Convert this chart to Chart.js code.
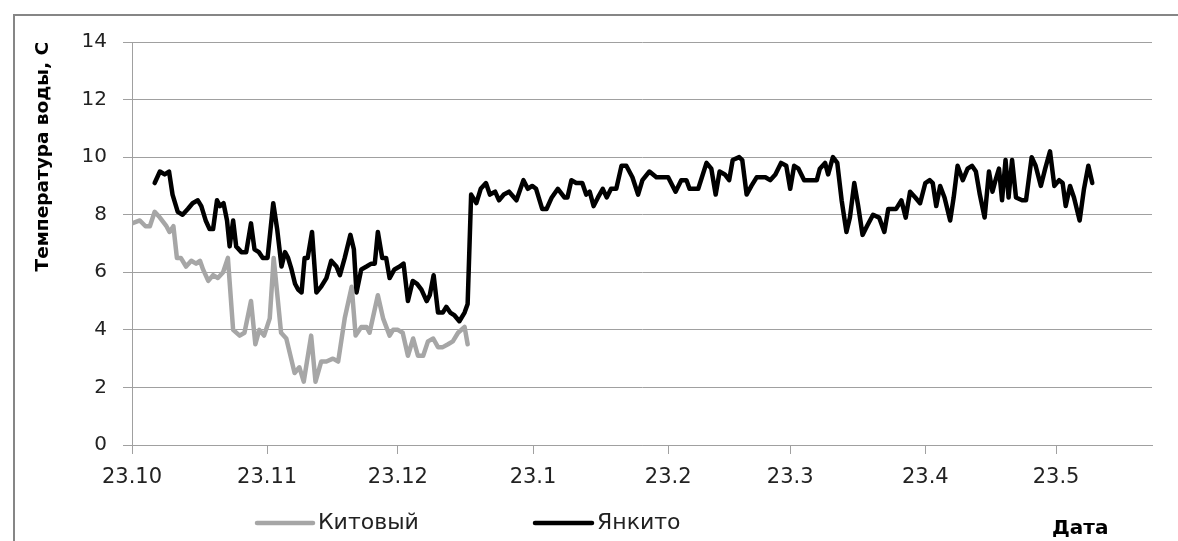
<!DOCTYPE html>
<html lang="ru">
<head>
  <meta charset="UTF-8">
  <title>Температура воды</title>
  <script src="https://cdn.jsdelivr.net/npm/chart.js@4.4.0/dist/chart.umd.min.js"></script>
  <style>
    html, body { margin: 0; padding: 0; background: #fff; }
    #wrap { position: relative; width: 1178px; height: 541px; }
  </style>
</head>
<body>
  <div id="wrap">
    <canvas id="tempChart" width="1178" height="541"></canvas>
  </div>

  <script>
    // days counted from 23.10
    const monthDays = [0, 31, 61, 92, 123, 151, 182, 212];
    const monthLabels = ['23.10', '23.11', '23.12', '23.1', '23.2', '23.3', '23.4', '23.5'];

    const kitovyDays = [0, 1.8, 3.1, 4.1, 5.2, 6.4, 7.9, 8.6, 9.5, 10.3, 11.2, 12.4, 13.6, 14.7, 15.6, 16.3,
      17.5, 18.6, 19.7, 20.9, 22.0, 23.2, 24.7, 25.8, 27.3, 28.3, 29.2, 30.3, 31.6, 32.5, 34.2, 35.4,
      37.3, 38.4, 39.4, 41.1, 42.1, 43.4, 44.6, 46.1, 47.3, 48.8, 50.4, 51.3, 52.6, 53.8, 54.5, 56.4,
      57.6, 59.1, 59.9, 61.0, 62.1, 63.3, 64.5, 65.6, 66.8, 67.9, 69.1, 70.2, 71.3, 72.5, 73.6, 74.8,
      76.3, 77.0];
    const kitovyTemp = [7.7, 7.8, 7.6, 7.6, 8.1, 7.9, 7.6, 7.4, 7.6, 6.5, 6.5, 6.2, 6.4, 6.3, 6.4, 6.1,
      5.7, 5.9, 5.8, 6.0, 6.5, 4.0, 3.8, 3.9, 5.0, 3.5, 4.0, 3.8, 4.4, 6.5, 3.9, 3.7,
      2.5, 2.7, 2.2, 3.8, 2.2, 2.9, 2.9, 3.0, 2.9, 4.4, 5.5, 3.8, 4.1, 4.1, 3.9, 5.2,
      4.4, 3.8, 4.0, 4.0, 3.9, 3.1, 3.7, 3.1, 3.1, 3.6, 3.7, 3.4, 3.4, 3.5, 3.6, 3.9,
      4.1, 3.5];

    const yankitoDays = [5.2, 6.4, 7.5, 8.5, 9.3, 10.5, 11.6, 12.8, 13.9, 15.1, 15.9, 16.9, 17.8, 18.6, 19.5, 20.2,
      21.0, 21.8, 22.4, 23.2, 23.9, 25.1, 26.2, 27.3, 28.1, 29.1, 30.0, 31.1, 32.4, 33.3, 34.3, 35.1,
      35.8, 36.6, 37.4, 38.1, 38.9, 39.6, 40.3, 41.3, 42.3, 43.4, 44.6, 45.7, 46.9, 47.7, 48.8, 50.1,
      50.9, 51.5, 52.6, 53.8, 54.9, 55.7, 56.4, 57.4, 58.3, 59.1, 60.2, 61.4, 62.3, 63.3, 64.4, 65.4,
      66.4, 67.6, 68.3, 69.2, 70.2, 71.3, 72.1, 73.0, 74.0, 75.1, 76.3, 77.0, 77.8, 79.0, 80.0, 81.2,
      82.1, 83.3, 84.2, 85.3, 86.5, 88.2, 89.8, 90.8, 91.8, 92.7, 94.1, 95.1, 96.3, 97.7, 99.2, 99.9,
      100.8, 101.9, 103.3, 104.2, 105.0, 105.9, 106.9, 108.0, 108.9, 109.9, 111.1, 112.3, 113.4, 114.8, 116.1, 117.1,
      118.7, 120.3, 121.8, 123.0, 124.7, 126.0, 127.2, 127.9, 129.9, 131.8, 132.9, 133.9, 134.8, 136.0, 137.0, 137.8,
      139.3, 140.0, 141.0, 142.1, 143.3, 145.3, 146.4, 147.6, 148.9, 150.1, 151.0, 151.9, 152.9, 154.2, 155.9, 157.1,
      157.8, 159.0, 159.7, 160.8, 161.8, 162.8, 163.9, 164.7, 165.7, 166.6, 167.6, 168.6, 170.0, 171.4, 172.6, 173.5,
      175.3, 176.5, 177.5, 178.5, 179.7, 180.8, 182.0, 183.0, 183.7, 184.5, 185.4, 186.4, 187.7, 188.5, 189.4, 190.6,
      191.7, 192.7, 193.6, 194.5, 195.6, 196.6, 197.4, 198.1, 198.9, 199.6, 200.4, 201.1, 201.9, 202.8, 204.2, 205.1,
      206.4, 207.3, 208.5, 209.5, 210.6, 211.6, 212.7, 213.5, 214.2, 215.2, 216.1, 217.4, 218.4, 219.4, 220.3];
    const yankitoTemp = [9.1, 9.5, 9.4, 9.5, 8.7, 8.1, 8.0, 8.2, 8.4, 8.5, 8.3, 7.8, 7.5, 7.5, 8.5, 8.3,
      8.4, 7.8, 6.9, 7.8, 6.9, 6.7, 6.7, 7.7, 6.8, 6.7, 6.5, 6.5, 8.4, 7.5, 6.2, 6.7,
      6.5, 6.1, 5.6, 5.4, 5.3, 6.5, 6.5, 7.4, 5.3, 5.5, 5.8, 6.4, 6.2, 5.9, 6.5, 7.3,
      6.8, 5.3, 6.1, 6.2, 6.3, 6.3, 7.4, 6.5, 6.5, 5.8, 6.1, 6.2, 6.3, 5.0, 5.7, 5.6,
      5.4, 5.0, 5.2, 5.9, 4.6, 4.6, 4.8, 4.6, 4.5, 4.3, 4.6, 4.9, 8.7, 8.4, 8.9, 9.1,
      8.7, 8.8, 8.5, 8.7, 8.8, 8.5, 9.2, 8.9, 9.0, 8.9, 8.2, 8.2, 8.6, 8.9, 8.6, 8.6,
      9.2, 9.1, 9.1, 8.7, 8.8, 8.3, 8.6, 8.9, 8.6, 8.9, 8.9, 9.7, 9.7, 9.3, 8.7, 9.2,
      9.5, 9.3, 9.3, 9.3, 8.8, 9.2, 9.2, 8.9, 8.9, 9.8, 9.6, 8.7, 9.5, 9.4, 9.2, 9.9,
      10.0, 9.9, 8.7, 9.0, 9.3, 9.3, 9.2, 9.4, 9.8, 9.7, 8.9, 9.7, 9.6, 9.2, 9.2, 9.2,
      9.6, 9.8, 9.4, 10.0, 9.8, 8.5, 7.4, 7.9, 9.1, 8.3, 7.3, 7.6, 8.0, 7.9, 7.4, 8.2,
      8.2, 8.5, 7.9, 8.8, 8.6, 8.4, 9.1, 9.2, 9.1, 8.3, 9.0, 8.6, 7.8, 8.6, 9.7, 9.2,
      9.6, 9.7, 9.5, 8.7, 7.9, 9.5, 8.8, 9.2, 9.6, 8.5, 9.9, 8.6, 9.9, 8.6, 8.5, 8.5,
      10.0, 9.7, 9.0, 9.6, 10.2, 9.0, 9.2, 9.1, 8.3, 9.0, 8.6, 7.8, 8.9, 9.7, 9.1];

    const toPoints = (xs, ys) => xs.map((x, i) => ({ x: x, y: ys[i] }));

    // frame, legend and the "Дата" label like in the excel picture
    const extras = {
      id: 'extras',
      beforeDraw(chart) {
        const ctx = chart.ctx;
        ctx.save();
        ctx.fillStyle = '#fff';
        ctx.fillRect(0, 0, chart.width, chart.height);
        ctx.strokeStyle = '#868686';
        ctx.lineWidth = 2;
        ctx.strokeRect(14, 15, 1200, 600);
        ctx.restore();
      },
      afterDraw(chart) {
        const ctx = chart.ctx;
        const items = [
          { ds: chart.data.datasets[0], x1: 257, x2: 313, tx: 318 },
          { ds: chart.data.datasets[1], x1: 535, x2: 592, tx: 597 }
        ];
        ctx.save();
        ctx.font = '22px "DejaVu Sans"';
        ctx.textBaseline = 'middle';
        items.forEach(it => {
          ctx.strokeStyle = it.ds.borderColor;
          ctx.lineWidth = 4.5;
          ctx.lineCap = 'round';
          ctx.beginPath();
          ctx.moveTo(it.x1, 523);
          ctx.lineTo(it.x2, 523);
          ctx.stroke();
          ctx.fillStyle = '#222';
          ctx.fillText(it.ds.label, it.tx, 523);
        });
        ctx.font = 'bold 20px "DejaVu Sans"';
        ctx.fillStyle = '#000';
        ctx.fillText('Дата', 1052, 529);
        ctx.restore();
      }
    };

    new Chart(document.getElementById('tempChart').getContext('2d'), {
      type: 'line',
      data: {
        datasets: [
          {
            label: 'Китовый',
            data: toPoints(kitovyDays, kitovyTemp),
            borderColor: '#a6a6a6',
            borderWidth: 4.5,
          },
          {
            label: 'Янкито',
            data: toPoints(yankitoDays, yankitoTemp),
            borderColor: '#000000',
            borderWidth: 4.5,
          }
        ]
      },
      options: {
        responsive: false,
        animation: false,
        parsing: false,
        elements: {
          point: { radius: 0 },
          line: { tension: 0, borderJoinStyle: 'round', borderCapStyle: 'round' }
        },
        layout: { padding: { top: 42, right: 26, bottom: 0, left: 0 } },
        plugins: {
          legend: { display: false },
          tooltip: { enabled: false }
        },
        scales: {
          x: {
            type: 'linear',
            min: 0,
            max: 234,
            afterBuildTicks: (scale) => {
              scale.ticks = monthDays.map(d => ({ value: d }));
            },
            afterFit: (scale) => { scale.height = 96; },
            ticks: {
              autoSkip: false,
              maxRotation: 0,
              padding: 11,
              color: '#222',
              font: { family: 'DejaVu Sans', size: 21 },
              callback: (value) => monthLabels[monthDays.indexOf(value)]
            },
            grid: { drawOnChartArea: false, tickLength: 9, color: '#a0a0a0' },
            border: { color: '#a0a0a0' }
          },
          y: {
            min: 0,
            max: 14,
            afterFit: (scale) => { scale.width = 132; },
            ticks: {
              stepSize: 2,
              padding: 16,
              color: '#222',
              font: { family: 'DejaVu Sans', size: 20 }
            },
            grid: { color: '#a0a0a0', tickLength: 9 },
            border: { color: '#a0a0a0' },
            title: {
              display: true,
              text: 'Температура воды, С',
              align: 'end',
              color: '#000',
              padding: { top: 32, bottom: 0 },
              font: { family: 'DejaVu Sans', size: 18.5, weight: 'bold' }
            }
          }
        }
      },
      plugins: [extras]
    });
  </script>
</body>
</html>
